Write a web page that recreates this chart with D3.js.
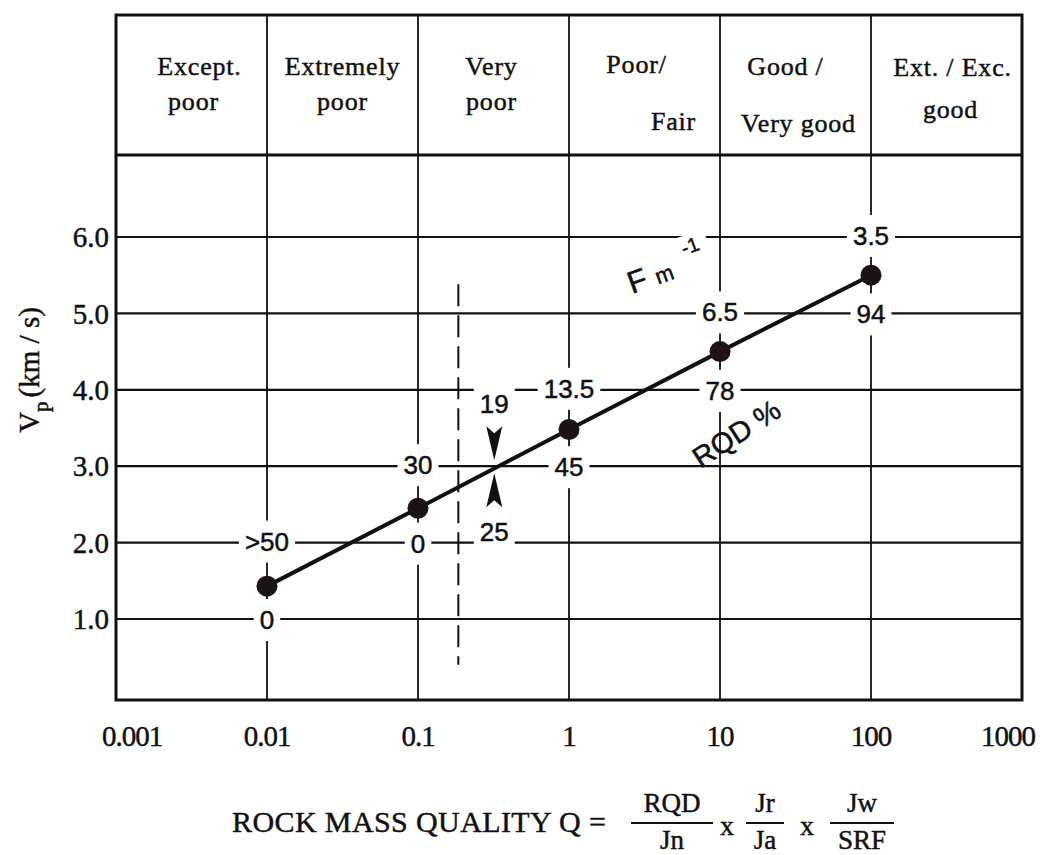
<!DOCTYPE html>
<html><head><meta charset="utf-8">
<script src="https://cdn.jsdelivr.net/npm/d3@7"></script>
<style>
body{margin:0;background:#fff;}
svg{display:block;}
.serif{font-family:"Liberation Serif","DejaVu Serif",serif;fill:#111;stroke:#111;stroke-width:0.45;}
.sans{font-family:"Liberation Sans",Arial,sans-serif;fill:#111;stroke:#111;stroke-width:0.5;}
</style></head>
<body>
<svg id="c" width="1046" height="855"></svg>
<script>
// ---------- DATA ----------
const qValues = [0.01, 0.1, 1, 10, 100];          // rock mass quality Q
const vpValues = [1.43, 2.45, 3.48, 4.5, 5.5];     // Vp (km/s)
const fmLabels = [">50", "30", "13.5", "6.5", "3.5"]; // Fm^-1, written on gridline above point
const fmLevels = [2, 3, 4, 5, 6];
const rqdLabels = ["0", "0", "45", "78", "94"];     // RQD %, written on gridline below point
const rqdLevels = [1, 2, 3, 4, 5];
const xTickValues = [0.001, 0.01, 0.1, 1, 10, 100, 1000];
const xTickLabels = ["0.001", "0.01", "0.1", "1", "10", "100", "1000"];
const yTickValues = [1, 2, 3, 4, 5, 6];
const yTickLabels = ["1.0", "2.0", "3.0", "4.0", "5.0", "6.0"];
const headerTop = ["Except.", "Extremely", "Very", "Poor/", "Good /", "Ext. / Exc."];
const headerBottom = ["poor", "poor", "poor", "Fair", "Very good", "good"];
const crossingQ = 0.32, crossingVp = 3.0, crossingAbove = "19", crossingBelow = "25";
const dashedQ = 0.185, dashedFrom = 0.4, dashedTo = 5.38;

// ---------- LAYOUT ----------
const L = 116, R = 1022, headTop = 15, headBot = 155, B = 700;
const svg = d3.select("#c");
const x = d3.scaleLog().domain([0.001, 1000]).range([L, R]);
const y = d3.scaleLinear().domain([1, 6]).range([619, 237]);
const ink = "#111";

// horizontal gridlines
svg.append("g").selectAll("line").data(yTickValues).join("line")
  .attr("x1", L).attr("x2", R).attr("y1", d => y(d)).attr("y2", d => y(d))
  .attr("stroke", ink).attr("stroke-width", 2.2);
// vertical gridlines / header dividers
svg.append("g").selectAll("line").data(qValues).join("line")
  .attr("x1", d => x(d)).attr("x2", d => x(d)).attr("y1", headTop).attr("y2", B)
  .attr("stroke", ink).attr("stroke-width", 1.8);

// dashed line
svg.append("line").attr("x1", x(dashedQ)).attr("x2", x(dashedQ))
  .attr("y1", y(dashedTo)).attr("y2", y(dashedFrom))
  .attr("stroke", ink).attr("stroke-width", 2).attr("stroke-dasharray", "22,9");

// labels with white knock-out background
const labG = svg.append("g");
function knockLabel(txt, cx, cy, size, padX, padY) {
  const g = labG.append("g");
  const t = g.append("text").attr("class", "sans").attr("x", cx).attr("y", cy)
    .attr("text-anchor", "middle").attr("dominant-baseline", "central")
    .attr("font-size", size).text(txt);
  const bb = t.node().getBBox();
  g.insert("rect", "text").attr("x", bb.x - padX).attr("y", bb.y - padY)
    .attr("width", bb.width + 2 * padX).attr("height", bb.height + 2 * padY).attr("fill", "#fff");
}
qValues.forEach((q, i) => {
  knockLabel(fmLabels[i], x(q), y(fmLevels[i]) - 1, 26, 6, 6);
  knockLabel(rqdLabels[i], x(q), y(rqdLevels[i]) + 1, 26, 6, 6);
});
knockLabel(crossingAbove, x(crossingQ), y(crossingVp + 0.82), 26, 6, 3);
knockLabel(crossingBelow, x(crossingQ), y(crossingVp - 0.86), 26, 6, 3);

// line + points
const line = d3.line().x((d, i) => x(qValues[i])).y(d => y(d));
svg.append("path").datum(vpValues).attr("d", line).attr("fill", "none")
  .attr("stroke", ink).attr("stroke-width", 4);
svg.append("g").selectAll("circle").data(vpValues).join("circle")
  .attr("cx", (d, i) => x(qValues[i])).attr("cy", d => y(d)).attr("r", 10.5)
  .attr("fill", "#1c1414");

// arrowheads at crossing
const ax = x(crossingQ), ay = y(crossingVp);
svg.append("path").attr("transform", `translate(${ax},${ay - 6})`)
  .attr("d", "M0,0 L-8,-34 L0,-27 L8,-34 Z").attr("fill", ink);
svg.append("path").attr("transform", `translate(${ax},${ay + 7})`)
  .attr("d", "M0,0 L-8,34 L0,27 L8,34 Z").attr("fill", ink);

// Fm^-1 label
const fm = svg.append("text").attr("class", "sans")
  .attr("transform", "translate(632,294) rotate(-20)").attr("font-size", 31);
fm.append("tspan").text("F");
fm.append("tspan").attr("dx", 9).attr("font-size", 22).text("m");
// superscript -1 sits on the 6.0 gridline with a gap
const supG = svg.append("g").attr("transform", "translate(690,246) rotate(-20)");
supG.append("rect").attr("x", -16).attr("y", -12).attr("width", 34).attr("height", 22).attr("fill", "#fff");
supG.append("text").attr("class", "sans").attr("font-size", 20).attr("text-anchor", "middle")
  .attr("dy", "0.35em").text("-1");

// RQD % label
svg.append("text").attr("class", "sans").attr("font-size", 29)
  .attr("text-anchor", "middle")
  .attr("transform", "translate(742,442) rotate(-33)").text("RQD %");

// frame
svg.append("rect").attr("x", L).attr("y", headTop).attr("width", R - L).attr("height", B - headTop)
  .attr("fill", "none").attr("stroke", ink).attr("stroke-width", 3);
svg.append("line").attr("x1", L).attr("x2", R).attr("y1", headBot).attr("y2", headBot)
  .attr("stroke", ink).attr("stroke-width", 3);

// header texts
const headerCols = [L, ...qValues.map(q => x(q)), R];
const hdrStyle = [
  {dx1: 8, y1: 75, dx2: 2, y2: 110},
  {dx1: 0, y1: 75, dx2: 0, y2: 110},
  {dx1: -2, y1: 75, dx2: -2, y2: 110},
  {dx1: -8, y1: 73, dx2: 29, y2: 130},
  {dx1: -10, y1: 75, dx2: 3, y2: 132},
  {dx1: 6, y1: 76, dx2: 4, y2: 118}
];
headerTop.forEach((t, i) => {
  const cx = (headerCols[i] + headerCols[i + 1]) / 2;
  svg.append("text").attr("class", "serif").attr("font-size", 26).attr("letter-spacing", 0.8)
    .attr("text-anchor", "middle").attr("x", cx + hdrStyle[i].dx1).attr("y", hdrStyle[i].y1).text(t);
  svg.append("text").attr("class", "serif").attr("font-size", 26).attr("letter-spacing", 0.8)
    .attr("text-anchor", "middle").attr("x", cx + hdrStyle[i].dx2).attr("y", hdrStyle[i].y2).text(headerBottom[i]);
});

// y axis tick labels
svg.append("g").selectAll("text").data(yTickValues).join("text").attr("class", "serif")
  .attr("x", 109).attr("y", d => y(d)).attr("dy", "0.35em").attr("text-anchor", "end")
  .attr("font-size", 29).text((d, i) => yTickLabels[i]);

// y axis title
const yt = svg.append("text").attr("class", "serif").attr("font-size", 29)
  .attr("text-anchor", "middle").attr("transform", "translate(39,370) rotate(-90)");
yt.append("tspan").text("V");
yt.append("tspan").attr("dy", 9).attr("font-size", 21).text("p");
yt.append("tspan").attr("dy", -9).attr("dx", 4).text("(km / s)");

// x axis tick labels
const xShift = [16, 0, 0, 0, 0, 0, -14];
svg.append("g").selectAll("text").data(xTickValues).join("text").attr("class", "serif")
  .attr("x", (d, i) => x(d) + xShift[i]).attr("y", 746).attr("text-anchor", "middle")
  .attr("font-size", 29).attr("letter-spacing", -1).text((d, i) => xTickLabels[i]);

// formula
svg.append("text").attr("class", "serif").attr("font-size", 30).attr("x", 232).attr("y", 832)
  .attr("letter-spacing", 0.4).text("ROCK MASS QUALITY Q =");
const fracs = [["RQD", "Jn", 672, 82], ["Jr", "Ja", 765, 38], ["Jw", "SRF", 862, 64]];
fracs.forEach(f => {
  svg.append("text").attr("class", "serif").attr("font-size", 27).attr("text-anchor", "middle")
    .attr("x", f[2]).attr("y", 812).text(f[0]);
  svg.append("text").attr("class", "serif").attr("font-size", 27).attr("text-anchor", "middle")
    .attr("x", f[2]).attr("y", 849).text(f[1]);
  svg.append("line").attr("x1", f[2] - f[3] / 2).attr("x2", f[2] + f[3] / 2)
    .attr("y1", 823).attr("y2", 823).attr("stroke", ink).attr("stroke-width", 2);
});
[727, 807].forEach(px => svg.append("text").attr("class", "serif").attr("font-size", 28)
  .attr("text-anchor", "middle").attr("x", px).attr("y", 835).text("x"));
</script>
</body></html>
